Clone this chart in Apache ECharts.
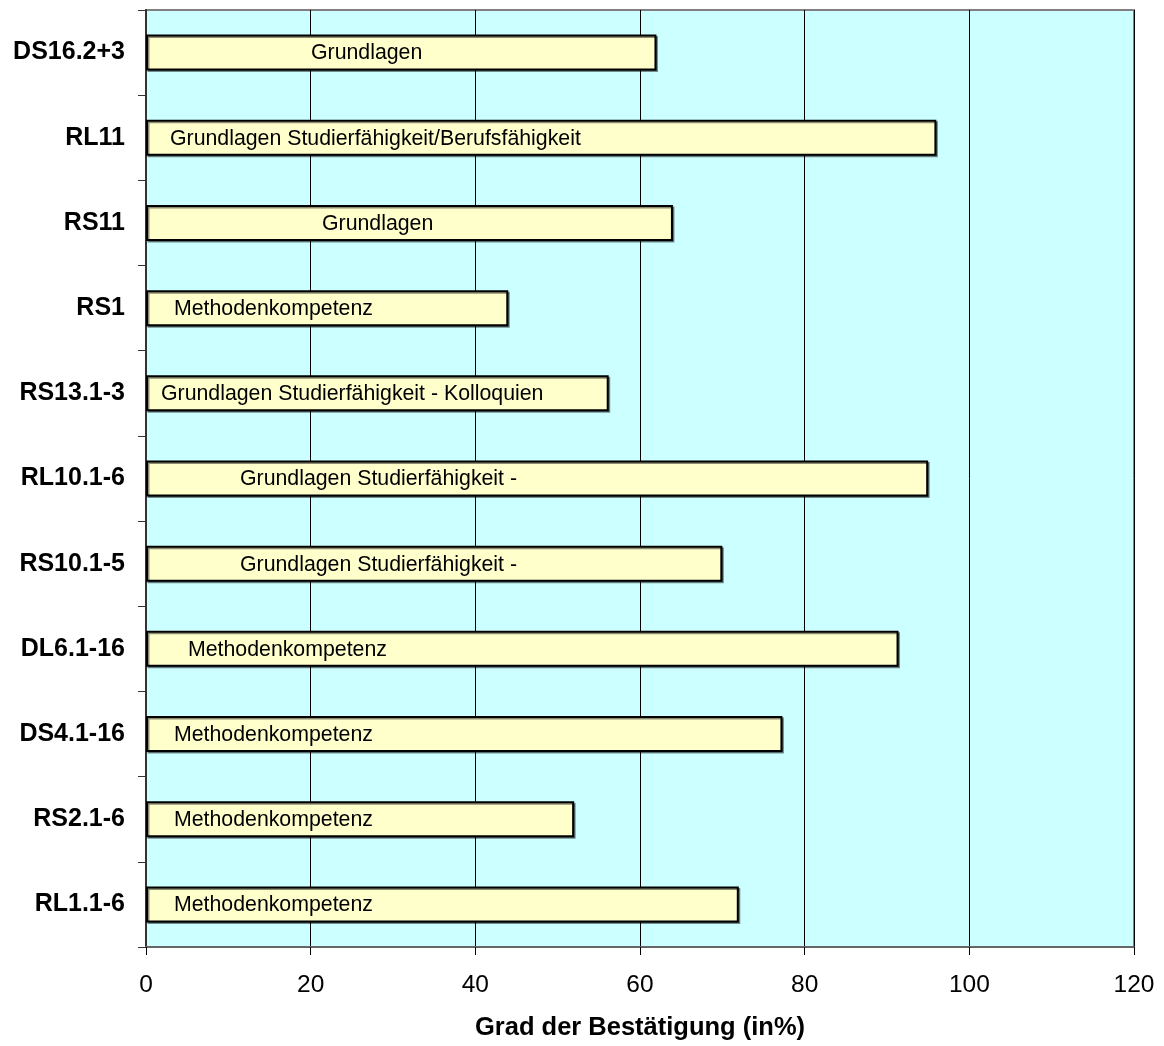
<!DOCTYPE html>
<html>
<head>
<meta charset="utf-8">
<script src="https://cdn.jsdelivr.net/npm/echarts@6/dist/echarts.min.js"></script>
<style>
  html, body { margin: 0; padding: 0; background: #ffffff; }
  #chart { width: 1164px; height: 1046px; }
</style>
</head>
<body>
<div id="chart"></div>
<script>
// ---- data ----
const categories = ['DS16.2+3', 'RL11', 'RS11', 'RS1', 'RS13.1-3', 'RL10.1-6', 'RS10.1-5', 'DL6.1-16', 'DS4.1-16', 'RS2.1-6', 'RL1.1-6'];
const values = [62, 96, 64, 44, 56.2, 95, 70, 91.4, 77.3, 52, 72];
const barTexts = [
  'Grundlagen',
  'Grundlagen Studierfähigkeit/Berufsfähigkeit',
  'Grundlagen',
  'Methodenkompetenz',
  'Grundlagen Studierfähigkeit - Kolloquien',
  'Grundlagen Studierfähigkeit -',
  'Grundlagen Studierfähigkeit -',
  'Methodenkompetenz',
  'Methodenkompetenz',
  'Methodenkompetenz',
  'Methodenkompetenz'
];
const xTicks = [0, 20, 40, 60, 80, 100, 120];
const xAxisTitle = 'Grad der Bestätigung (in%)';

// ---- style (label insets from the bar start, px) ----
const labelInset = [165, 24, 176, 28, 15, 94, 94, 42, 28, 28, 28];

const FONT = 'Arial, "Liberation Sans", sans-serif';
const chart = echarts.init(document.getElementById('chart'), null, { renderer: 'canvas' });

chart.setOption({
  animation: false,
  backgroundColor: '#ffffff',
  grid: {
    left: 146, right: 30, top: 10, bottom: 98,
    show: true, backgroundColor: '#CCFFFF', borderColor: '#808080', borderWidth: 2,
    containLabel: false
  },
  xAxis: {
    type: 'value',
    min: xTicks[0], max: xTicks[xTicks.length - 1], interval: xTicks[1] - xTicks[0],
    name: xAxisTitle,
    nameLocation: 'middle',
    nameGap: 68,
    nameTextStyle: { fontFamily: FONT, fontSize: 25.5, fontWeight: 'bold', color: '#000' },
    axisLine: { show: true, lineStyle: { color: '#666666', width: 2 } },
    axisTick: { show: true, length: 8, lineStyle: { color: '#000', width: 1 } },
    axisLabel: { fontFamily: FONT, fontSize: 24.5, color: '#000', margin: 26 },
    splitLine: { show: true, lineStyle: { color: '#000', width: 1 } }
  },
  yAxis: {
    type: 'category',
    data: categories,
    inverse: true,
    axisLine: { show: true, lineStyle: { color: '#333333', width: 2 } },
    axisTick: { show: true, length: 8, alignWithLabel: false, lineStyle: { color: '#333', width: 1 } },
    axisLabel: { fontFamily: FONT, fontSize: 25, fontWeight: 'bold', color: '#000', margin: 21 },
    splitLine: { show: false }
  },
  series: [{
    type: 'bar',
    barWidth: 36,
    data: values.map((v, i) => ({
      value: v,
      label: {
        show: true,
        position: 'insideLeft',
        distance: 0,
        offset: [labelInset[i], 1],
        formatter: barTexts[i]
      }
    })),
    itemStyle: {
      color: '#FFFFCC',
      borderColor: '#000000',
      borderWidth: 2,
      shadowColor: 'rgba(0,0,0,0.45)',
      shadowOffsetX: 1.5,
      shadowOffsetY: 1.5,
      shadowBlur: 0
    },
    label: {
      fontFamily: FONT,
      fontSize: 21.3,
      color: '#000'
    },
    z: 3
  }]
});
</script>
</body>
</html>
